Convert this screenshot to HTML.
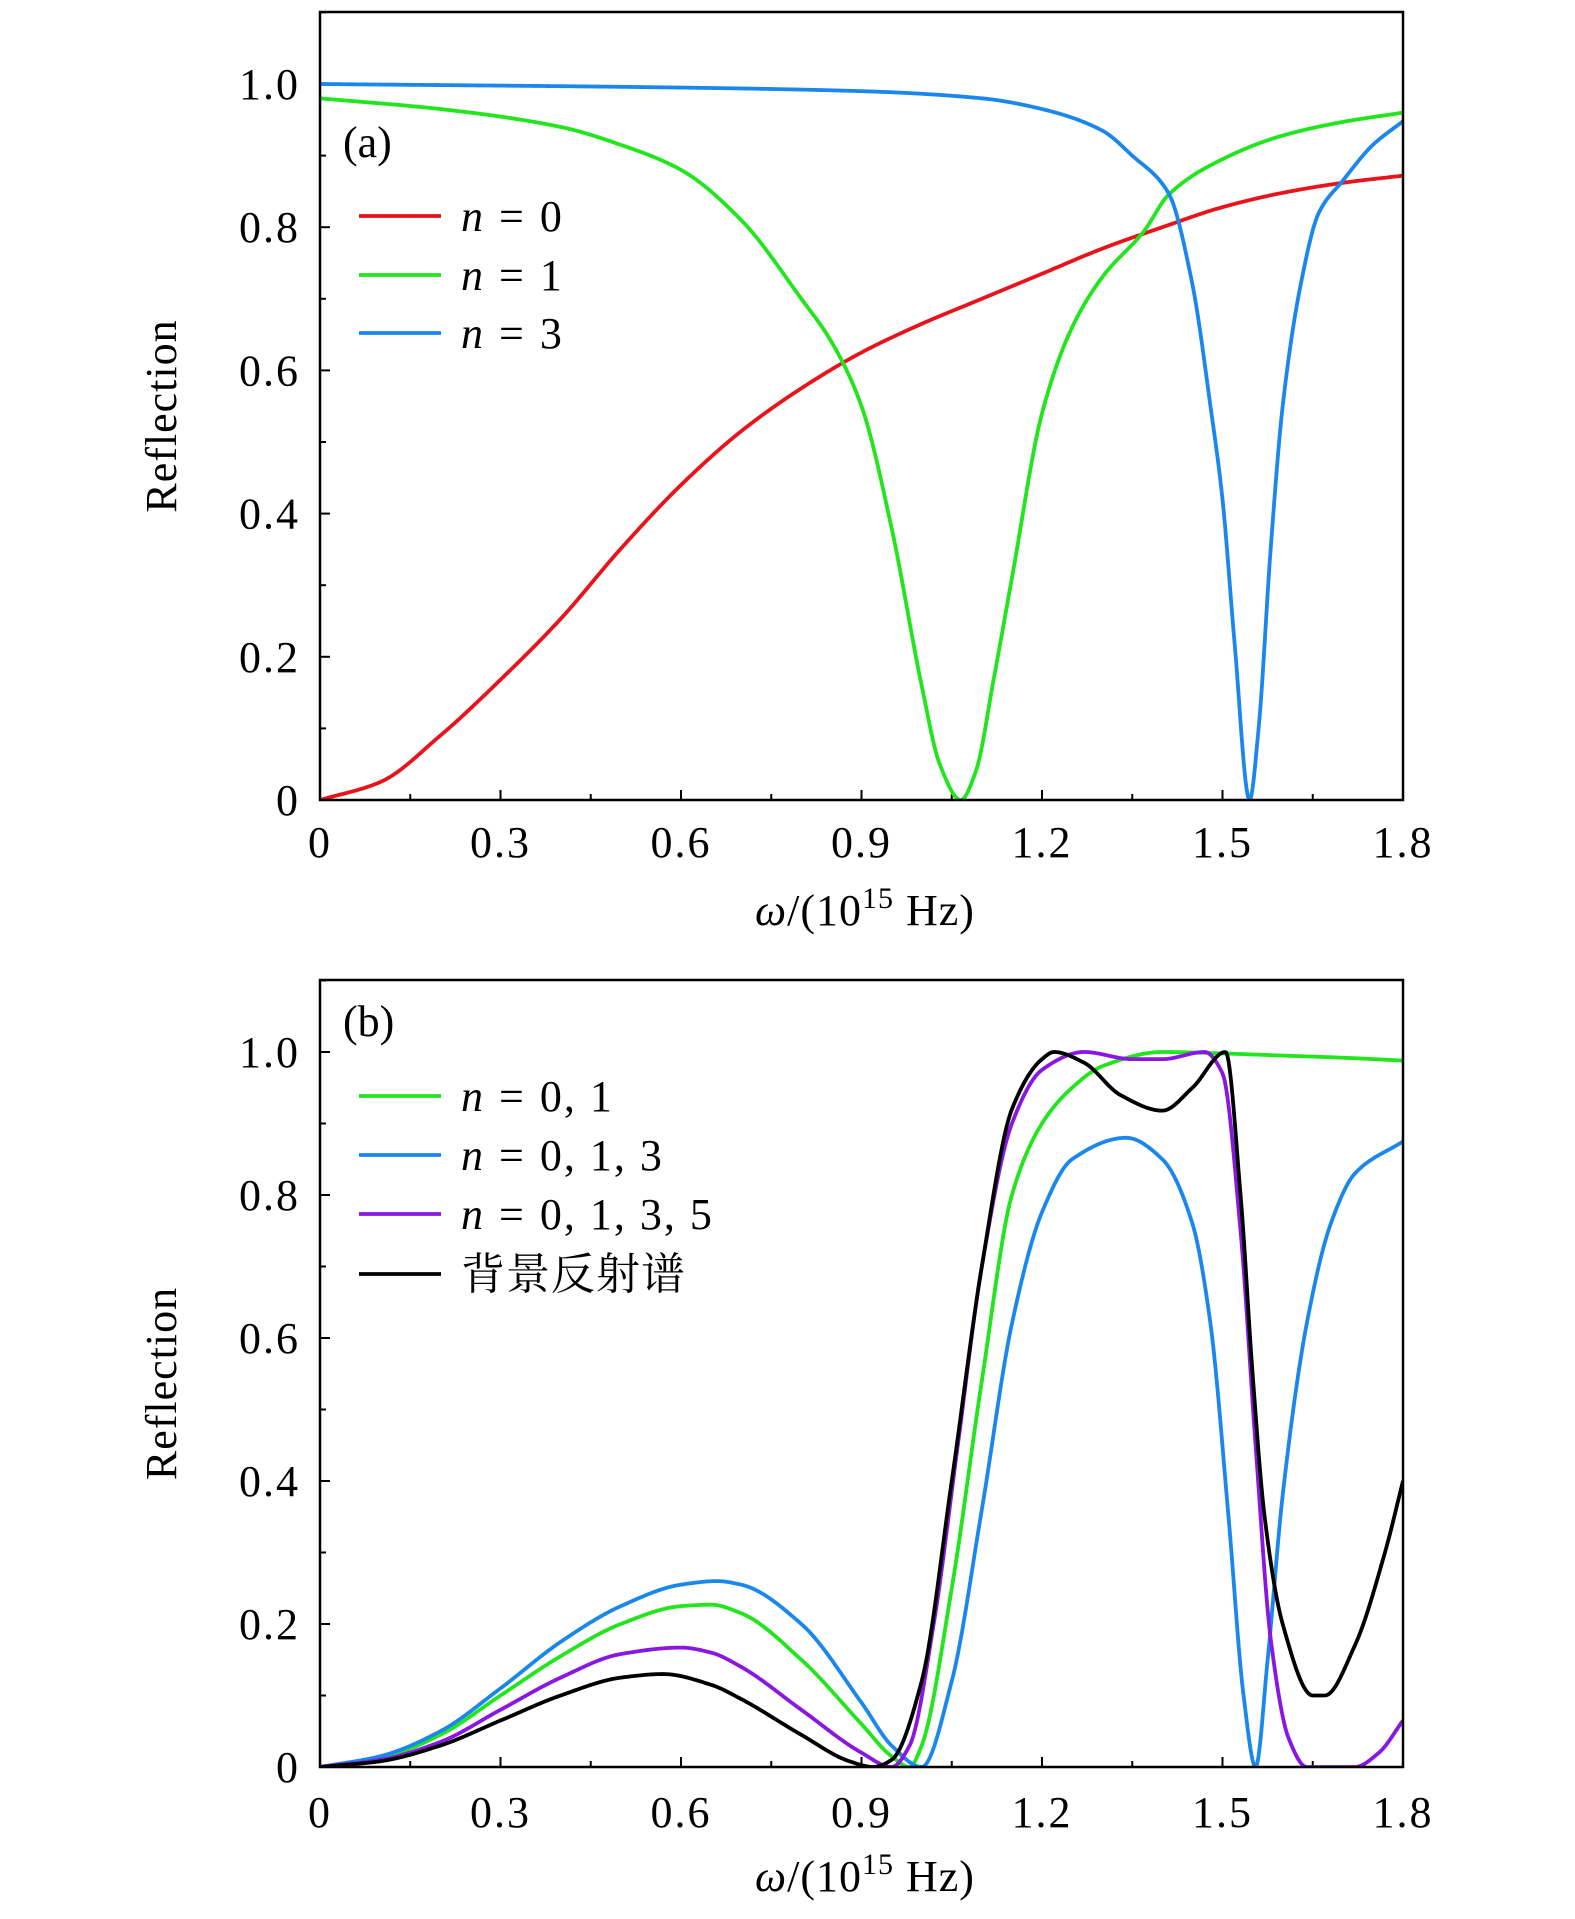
<!DOCTYPE html>
<html><head><meta charset="utf-8"><style>
html,body{margin:0;padding:0;background:#fff}
svg{display:block}
text{font-family:"Liberation Serif","Noto Serif CJK SC",serif;fill:#000}
</style></head><body>
<svg id="chart" width="1575" height="1919" viewBox="0 0 1575 1919"></svg>
<script>
// Panel (a) data
const aRedX=[0,0.1,0.2,0.3,0.4,0.5,0.6,0.7,0.8,0.9,1.0,1.1,1.2,1.3,1.4,1.5,1.6,1.7,1.8];
const aRedY=[0,0.025,0.09,0.168,0.253,0.351,0.44,0.515,0.575,0.625,0.665,0.70,0.735,0.77,0.80,0.828,0.848,0.862,0.872];
const aGreenX=[0,0.2,0.4,0.5,0.6,0.7,0.8,0.85,0.9,0.95,1.0,1.03,1.065,1.09,1.12,1.15,1.2,1.25,1.3,1.37,1.41,1.5,1.6,1.7,1.8];
const aGreenY=[0.98,0.965,0.94,0.915,0.88,0.81,0.70,0.64,0.55,0.38,0.16,0.05,0.0,0.04,0.17,0.31,0.54,0.66,0.73,0.795,0.845,0.895,0.928,0.947,0.96];
const aBlueX=[0,0.6,0.9,1.1,1.2,1.3,1.35,1.41,1.45,1.48,1.5,1.52,1.545,1.56,1.58,1.6,1.63,1.66,1.7,1.75,1.8];
const aBlueY=[1.0,0.995,0.99,0.98,0.965,0.935,0.9,0.848,0.72,0.55,0.42,0.22,0.0,0.1,0.35,0.55,0.72,0.82,0.865,0.915,0.948];
// Panel (b) data
const bGreenX=[0,0.1,0.2,0.3,0.4,0.5,0.6,0.65,0.7,0.8,0.9,0.95,0.98,1.0,1.05,1.1,1.15,1.2,1.25,1.3,1.4,1.5,1.6,1.7,1.8];
const bGreenY=[0,0.012,0.045,0.1,0.155,0.2,0.225,0.227,0.215,0.15,0.06,0.015,0.0,0.03,0.25,0.54,0.8,0.9,0.95,0.98,1.0,0.998,0.995,0.992,0.988];
const bBlueX=[0,0.1,0.2,0.3,0.4,0.5,0.6,0.66,0.7,0.8,0.9,0.95,1.0,1.05,1.1,1.15,1.2,1.25,1.34,1.4,1.45,1.48,1.51,1.535,1.555,1.575,1.6,1.64,1.68,1.72,1.8];
const bBlueY=[0,0.015,0.05,0.11,0.175,0.225,0.255,0.26,0.255,0.2,0.09,0.03,0.0,0.12,0.36,0.62,0.776,0.85,0.88,0.85,0.76,0.62,0.35,0.1,0,0.15,0.38,0.62,0.76,0.83,0.875];
const bPurpleX=[0,0.1,0.2,0.3,0.4,0.5,0.6,0.65,0.7,0.8,0.9,0.95,0.98,1.02,1.06,1.1,1.15,1.2,1.27,1.35,1.4,1.47,1.5,1.53,1.555,1.58,1.61,1.64,1.72,1.76,1.8];
const bPurpleY=[0,0.01,0.035,0.08,0.125,0.158,0.167,0.16,0.14,0.08,0.02,0,0.03,0.2,0.45,0.7,0.9,0.975,1.0,0.99,0.99,1.0,0.97,0.75,0.45,0.18,0.04,0,0,0.02,0.065];
const bBlackX=[0,0.1,0.2,0.3,0.4,0.5,0.57,0.65,0.7,0.8,0.88,0.92,0.95,1.0,1.05,1.1,1.15,1.2,1.22,1.27,1.33,1.4,1.45,1.505,1.53,1.55,1.57,1.6,1.65,1.67,1.72,1.77,1.8];
const bBlackY=[0,0.008,0.03,0.065,0.1,0.125,0.13,0.115,0.095,0.045,0.008,0,0.01,0.12,0.4,0.7,0.92,0.99,1.0,0.985,0.94,0.918,0.95,1.0,0.8,0.55,0.35,0.2,0.1,0.1,0.17,0.3,0.4];
const xTicks=["0","0.3","0.6","0.9","1.2","1.5","1.8"];
const yTicks=["0","0.2","0.4","0.6","0.8","1.0"];

const NS="http://www.w3.org/2000/svg";
const svg=document.getElementById('chart');
function mk(tag,attrs,parent){const e=document.createElementNS(NS,tag);for(const k in attrs)e.setAttribute(k,attrs[k]);(parent||svg).appendChild(e);return e;}

// monotone cubic (Fritsch-Carlson) interpolation
function monotone(xs,ys){
  const n=xs.length,d=[],m=new Array(n);
  for(let i=0;i<n-1;i++)d.push((ys[i+1]-ys[i])/(xs[i+1]-xs[i]));
  m[0]=d[0];m[n-1]=d[n-2];
  for(let i=1;i<n-1;i++){
    if(d[i-1]*d[i]<=0)m[i]=0;
    else{const h0=xs[i]-xs[i-1],h1=xs[i+1]-xs[i];const w1=2*h1+h0,w2=h1+2*h0;m[i]=(w1+w2)/(w1/d[i-1]+w2/d[i]);}
  }
  return function(x){
    let i=0;while(i<n-2&&x>xs[i+1])i++;
    const h=xs[i+1]-xs[i],t=(x-xs[i])/h,t2=t*t,t3=t2*t;
    return (2*t3-3*t2+1)*ys[i]+(t3-2*t2+t)*h*m[i]+(-2*t3+3*t2)*ys[i+1]+(t3-t2)*h*m[i+1];
  };
}

function panel(p){
  const L=320,R=1403,T=p.top,B=p.bottom,Y1=p.y1;
  const sx=v=>L+(R-L)*v/1.8;
  const sy=v=>B-(B-Y1)*v;
  const g=mk('g',{});
  
  
  const clip=mk('clipPath',{id:'clip'+p.id},g);
  mk('rect',{x:L,y:T,width:R-L,height:B-T},clip);
  for(let i=0;i<=12;i++){
    const v=i*0.15,x=sx(v),len=(i%2==0)?10:6;
    const t=mk('line',{x1:x,y1:B,x2:x,y2:B-len,stroke:'#000','stroke-width':2},g);
    
    
  }
  for(let i=0;i<=11;i++){
    const v=i*0.1,y=sy(v),len=(i%2==0)?10:6;
    const t=mk('line',{x1:L,y1:y,x2:L+len,y2:y,stroke:'#000','stroke-width':2},g);
    
    
  }
  xTicks.forEach((s,i)=>{
    const t=mk('text',{x:sx(i*0.3),y:p.xlab,'font-size':44,'letter-spacing':2,'text-anchor':'middle'},g);
    t.textContent=s;
    
    
  });
  yTicks.forEach((s,i)=>{
    const t=mk('text',{x:300,y:sy(i*0.2)+15,'font-size':44,'letter-spacing':2,'text-anchor':'end'},g);
    t.textContent=s;
    
    
  });
  const xt=mk('text',{x:865,y:p.xtitle,'font-size':44,'letter-spacing':1,'text-anchor':'middle'},g);
  xt.innerHTML='<tspan font-style="italic">ω</tspan>/(10<tspan font-size="30" dy="-17">15</tspan><tspan dy="17"> Hz)</tspan>';
  
  
  const yt=mk('text',{x:0,y:0,'font-size':44,'letter-spacing':1,'text-anchor':'middle',transform:`translate(176,${(T+B)/2+10}) rotate(-90)`},g);
  yt.textContent='Reflection';
  
  
  p.series.forEach(s=>{
    const f=monotone(s.x,s.y);
    let d='';
    for(let k=0;k<=900;k++){
      const v=1.8*k/900;
      d+=(k?'L':'M')+sx(v).toFixed(2)+','+sy(f(v)).toFixed(2);
    }
    const path=mk('path',{d:d,fill:'none',stroke:s.c,'stroke-width':3.8,'stroke-linejoin':'round','clip-path':`url(#clip${p.id})`},g);
    
    
  });
  mk('rect',{x:L,y:T,width:R-L,height:B-T,fill:'none',stroke:'#000','stroke-width':2.5},g);
  const pl=mk('text',{x:343,y:p.plab,'font-size':44},g);
  pl.textContent=p.label;
  
  
  p.legend.forEach((e,i)=>{
    const y=p.legY[i];
    const lg=mk('g',{},g);
    
    
    mk('line',{x1:359,y1:y,x2:441,y2:y,stroke:e.c,'stroke-width':3.8},lg);
    const t=mk('text',{x:461,y:y+15,'font-size':44,'letter-spacing':e.ls||2},lg);
    t.innerHTML=e.t;
  });
}
const nEq='<tspan font-style="italic">n</tspan><tspan dx="14">=</tspan><tspan dx="14">';
panel({id:'a',name:'panel-a',top:12,bottom:800,y1:84,xlab:857,xtitle:925,plab:157,label:'(a)',
  series:[{x:aRedX,y:aRedY,c:'#e8141c',name:'line-n0'},{x:aGreenX,y:aGreenY,c:'#22e51e',name:'line-n1'},{x:aBlueX,y:aBlueY,c:'#1a87ec',name:'line-n3'}],
  legend:[{c:'#e8141c',t:nEq+'0</tspan>'},{c:'#22e51e',t:nEq+'1</tspan>'},{c:'#1a87ec',t:nEq+'3</tspan>'}],legY:[216,275,333]});
panel({id:'b',name:'panel-b',top:980,bottom:1767,y1:1052,xlab:1827,xtitle:1891,plab:1036,label:'(b)',
  series:[{x:bGreenX,y:bGreenY,c:'#22e51e',name:'line-n01'},{x:bBlueX,y:bBlueY,c:'#1a87ec',name:'line-n013'},{x:bPurpleX,y:bPurpleY,c:'#8a17e0',name:'line-n0135'},{x:bBlackX,y:bBlackY,c:'#000000',name:'line-background'}],
  legend:[{c:'#22e51e',t:nEq+'0,  1</tspan>'},{c:'#1a87ec',t:nEq+'0,  1,  3</tspan>'},{c:'#8a17e0',t:nEq+'0,  1,  3,  5</tspan>'},{c:'#000',t:'背景反射谱',ls:1}],legY:[1096,1155,1214,1274]});
</script>
</body></html>
